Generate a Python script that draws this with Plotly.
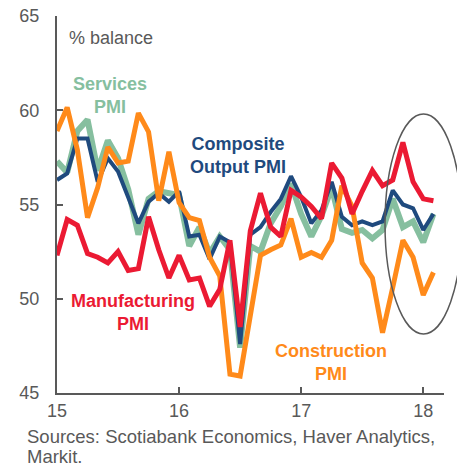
import plotly.graph_objects as go

months = [15 + i / 12 for i in range(38)]

services = [57.3, 56.7, 58.9, 59.5, 56.8, 58.4, 57.45, 55.8, 53.4, 55.3, 55.7, 55.6,
            55.5, 52.8, 53.8, 52.4, 53.3, 52.6, 47.4, 52.8, 52.5, 54.0, 54.9, 56.1,
            54.5, 53.3, 54.4, 55.9, 53.7, 53.5, 53.65, 53.2, 53.65, 55.3, 53.8, 54.1,
            53.0, 54.5]
composite = [56.3, 56.65, 58.5, 58.5, 56.2, 57.45, 56.75, 55.4, 54.0, 55.15, 55.6, 55.15,
             55.7, 53.3, 53.4, 52.1, 53.3, 53.0, 47.6, 53.4, 53.8, 54.6, 55.3, 56.5,
             55.4, 54.0, 54.7, 56.2, 54.35, 53.9, 54.1, 53.9, 54.1, 55.75, 55.0, 54.8,
             53.65, 54.5]
construction = [58.9, 60.15, 57.9, 54.3, 55.9, 58.05, 57.2, 57.3, 59.85, 58.85, 55.2, 57.8,
                55.1, 54.3, 54.15, 52.2, 51.2, 46.0, 45.9, 49.1, 52.3, 52.6, 52.85, 54.25,
                52.2, 52.45, 52.2, 53.1, 56.0, 54.9, 51.9, 51.1, 48.2, 50.6, 53.1, 52.2,
                50.2, 51.4]
manufacturing = [52.3, 54.2, 53.9, 52.4, 52.2, 51.9, 52.5, 51.5, 51.6, 54.35, 52.6, 51.1,
                 52.3, 51.0, 51.1, 49.6, 50.5, 53.1, 48.5, 53.6, 55.6, 53.8, 53.3, 55.75,
                 55.4, 54.9, 54.25, 57.2, 56.4, 54.5, 55.7, 56.8, 56.0, 56.3, 58.3, 56.2,
                 55.3, 55.2]

x_ticks = [15, 16, 17, 18]
x_tick_labels = ["15", "16", "17", "18"]
y_ticks = [45, 50, 55, 60, 65]

GREEN = "#86BF9F"
BLUE = "#1F4A7E"
ORANGE = "#FF8A1A"
RED = "#EB1A33"
GREY = "#595959"
FONT = "Liberation Sans, Arial, sans-serif"

fig = go.Figure()
fig.add_trace(go.Scatter(x=months, y=services, mode="lines",
                         line=dict(color=GREEN, width=6), showlegend=False))
fig.add_trace(go.Scatter(x=months, y=composite, mode="lines",
                         line=dict(color=BLUE, width=4), showlegend=False))
fig.add_trace(go.Scatter(x=months, y=construction, mode="lines",
                         line=dict(color=ORANGE, width=5), showlegend=False))
fig.add_trace(go.Scatter(x=months, y=manufacturing, mode="lines",
                         line=dict(color=RED, width=5), showlegend=False))

# The page body adds an 8px offset, so the figure is sized to compensate.
fig.update_layout(
    template="none",
    width=457, height=460,
    margin=dict(l=49, r=21, t=8, b=75, pad=0),
    plot_bgcolor="white", paper_bgcolor="white",
    font=dict(family=FONT, color=GREY, size=17),
    xaxis=dict(range=[15, 18.17], tickvals=x_ticks, ticktext=x_tick_labels,
               automargin=False, ticklabeloverflow="allow",
               showgrid=False, zeroline=False, showline=True, linecolor=GREY,
               linewidth=2, ticks="inside", ticklen=6, tickwidth=2, tickcolor=GREY,
               tickfont=dict(size=18, color=GREY)),
    yaxis=dict(range=[45, 65], tickvals=y_ticks, automargin=False,
               ticklabeloverflow="allow",
               showgrid=False, zeroline=False, showline=True, linecolor=GREY,
               linewidth=2, ticks="inside", ticklen=6, tickwidth=2, tickcolor=GREY,
               tickfont=dict(size=18, color=GREY), ticklabelstandoff=12),
)

def px_to_paper(xp, yp):
    return (xp - 57) / 387.0, (393 - yp) / 377.0

def lab_px(text, xp, yp, color, size=18, bold=True, xanchor="center", align="center"):
    x, y = px_to_paper(xp, yp)
    fig.add_annotation(text=("<b>%s</b>" % text) if bold else text,
                       xref="paper", yref="paper", x=x, y=y,
                       xanchor=xanchor, yanchor="middle", align=align,
                       showarrow=False, font=dict(color=color, size=size, family=FONT))

lab_px("% balance", 67, 38, GREY, size=18, bold=False, xanchor="left", align="left")
lab_px("Services<br>PMI", 110, 96, GREEN)
lab_px("Composite<br>Output PMI", 238, 156, BLUE)
lab_px("Manufacturing<br>PMI", 133, 312, RED)
lab_px("Construction<br>PMI", 331, 362, ORANGE)

lab_px("Sources: Scotiabank Economics, Haver Analytics,", 25, 437, GREY,
       size=18.5, bold=False, xanchor="left", align="left")
lab_px("Markit.", 25, 456, GREY, size=18.5, bold=False, xanchor="left", align="left")

ex0, ey0 = px_to_paper(385, 334)
ex1, ey1 = px_to_paper(462, 114)
fig.add_shape(type="circle", xref="paper", yref="paper", x0=ex0, y0=ey0, x1=ex1, y1=ey1,
              line=dict(color=GREY, width=1.5))

fig.write_html("out.html")
